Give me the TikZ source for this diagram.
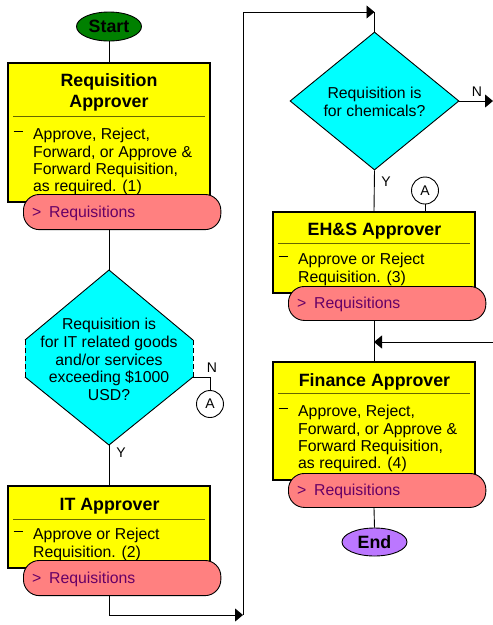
\documentclass[tikz,border=0pt]{standalone}
\usepackage{fontspec}
\setmainfont{Liberation Sans}
\usetikzlibrary{arrows.meta,shapes.geometric}

\definecolor{boxyellow}{RGB}{255,255,0}
\definecolor{pillred}{RGB}{255,128,128}
\definecolor{pilltext}{RGB}{102,0,102}
\definecolor{decisioncyan}{RGB}{0,255,255}
\definecolor{startgreen}{RGB}{0,128,0}
\definecolor{endpurple}{RGB}{187,119,255}
\definecolor{ruleolive}{RGB}{102,102,0}

\tikzset{
  rolebox/.style={draw=black, line width=2.4pt, fill=boxyellow, inner sep=0pt, anchor=north west},
  pill/.style={draw=black, line width=0.9pt, fill=pillred, rounded corners=16pt, inner sep=0pt, anchor=north west},
  flow/.style={draw=black, line width=0.9pt},
  arrowflow/.style={flow, -{Triangle[length=8pt,width=13pt]}},
  titletext/.style={font=\fontsize{17.8}{21}\selectfont\bfseries, align=center, inner sep=0pt, anchor=north},
  bodytext/.style={font=\fontsize{15.8}{17.3}\selectfont, align=left, inner sep=0pt, anchor=north west},
  decisiontext/.style={font=\fontsize{15.8}{17.7}\selectfont, align=center, inner sep=0pt, anchor=north},
  pilllabel/.style={font=\fontsize{15.8}{17.3}\selectfont, text=pilltext, inner sep=0pt, anchor=base west},
  terminal/.style={ellipse, draw=black, line width=0.9pt, inner sep=0pt, font=\fontsize{17.8}{21}\selectfont\bfseries},
  branchlabel/.style={font=\fontsize{14}{16}\selectfont, inner sep=0pt},
  offpage/.style={circle, draw=black, line width=0.9pt, fill=white, inner sep=0pt, minimum size=27pt, font=\fontsize{14}{16}\selectfont},
  rulesep/.style={draw=ruleolive, line width=1pt},
  bulletdash/.style={draw=black, line width=1pt},
}

\begin{document}
\begin{tikzpicture}[x=1pt, y=-1pt]
\useasboundingbox (0,0) rectangle (493,625);

% ---------- left column ----------
\node[terminal, fill=startgreen, minimum width=65pt, minimum height=29pt] (start) at (109,26.5) {Start};

% Requisition Approver
\node[rolebox, minimum width=201.6pt, minimum height=138.6pt] (ra) at (7,62) {};
\node[titletext] (rat) at (109,71.3) {\strut Requisition\\Approver};
\draw[rulesep] (13,116) -- (205,116);
\draw[bulletdash] (13.5,131) -- (22.5,131);
\node[bodytext] (rab) at (33,127.4) {\strut Approve, Reject,\\Forward, or Approve \&\\Forward Requisition,\\as required. (1)};
\node[pill, minimum width=197.4pt, minimum height=35.2pt] (rap) at (23,194) {};
\node[pilllabel] (rapl) at (32,217.7) {>\kern7.8pt Requisitions};

% IT decision
\coordinate (d1t)  at (109,270);
\coordinate (d1ur) at (193,340);
\coordinate (d1lr) at (193,377);
\coordinate (d1b)  at (109,445);
\coordinate (d1ll) at (25,377);
\coordinate (d1ul) at (25,340);
\fill[decisioncyan] (d1t) -- (d1ur) -- (d1lr) -- (d1b) -- (d1ll) -- (d1ul) -- cycle;
\draw[flow] (d1ul) -- (d1t) -- (d1ur);
\draw[flow] (d1lr) -- (d1b) -- (d1ll);
\draw[flow, dash pattern=on 5pt off 3pt] (d1ur) -- (d1lr);
\draw[flow, dash pattern=on 5pt off 3pt] (d1ll) -- (d1ul);
\node[decisiontext] (d1text) at (109,317.1) {\strut Requisition is\\for IT related goods\\and/or services\\exceeding \$1000\\USD?};

\node[offpage] (ca1) at (210,404) {A};
\node[branchlabel] (n1) at (212,368) {N};
\node[branchlabel] (y1) at (121,453) {Y};

% IT Approver
\node[rolebox, minimum width=201.6pt, minimum height=81.6pt] (it) at (7,485) {};
\node[titletext] (itt) at (109.5,495.3) {\strut IT Approver};
\draw[rulesep] (13,519) -- (205,519);
\draw[bulletdash] (13.5,531.5) -- (22.5,531.5);
\node[bodytext] (itb) at (33,527.4) {\strut Approve or Reject\\Requisition. (2)};
\node[pill, minimum width=197.4pt, minimum height=35.2pt] (itp) at (23,560) {};
\node[pilllabel] (itpl) at (32,583.9) {>\kern7.8pt Requisitions};

% ---------- right column ----------
\coordinate (bend1) at (243,615);
\coordinate (bend2) at (374.5,12);

\node[diamond, draw=black, line width=0.9pt, fill=decisioncyan, inner sep=0pt,
      minimum width=169pt, minimum height=138pt] (d2) at (374.5,101) {};
\node[decisiontext] (d2text) at (374.5,86.2) {\strut Requisition is\\for chemicals?};
\coordinate (d2out) at (493,101);
\node[branchlabel] (n2) at (477,92) {N};
\node[branchlabel] (y2) at (386,182) {Y};

\node[offpage] (ca2) at (425,190.5) {A};

% EH&S Approver
\node[rolebox, minimum width=201.6pt, minimum height=80.6pt] (eh) at (272,211) {};
\node[titletext] (eht) at (374.5,220.3) {\strut EH\&S Approver};
\draw[rulesep] (278,243) -- (470,243);
\draw[bulletdash] (278.5,256) -- (288,256);
\node[bodytext] (ehb) at (298,252.4) {\strut Approve or Reject\\Requisition. (3)};
\node[pill, minimum width=197.4pt, minimum height=34pt] (ehp) at (288,286) {};
\node[pilllabel] (ehpl) at (297,308.7) {>\kern7.8pt Requisitions};

\coordinate (rin) at (493,342);

% Finance Approver
\node[rolebox, minimum width=201.6pt, minimum height=117.6pt] (fin) at (272,361) {};
\node[titletext] (fint) at (374.5,371.3) {\strut Finance Approver};
\draw[rulesep] (278,393.3) -- (470,393.3);
\draw[bulletdash] (278.5,408) -- (288,408);
\node[bodytext] (finb) at (298,404.4) {\strut Approve, Reject,\\Forward, or Approve \&\\Forward Requisition,\\as required. (4)};
\node[pill, minimum width=197.4pt, minimum height=34pt] (finp) at (288,473) {};
\node[pilllabel] (finpl) at (297,495.7) {>\kern7.8pt Requisitions};

\node[terminal, fill=endpurple, minimum width=65pt, minimum height=28pt] (end) at (374.5,542) {End};

% ---------- connectors ----------
\draw[flow] (start.south) -- (ra.north);
\draw[flow] (d1t |- rap.south) -- (d1t);
\draw[flow] (d1b) -- (it.north);
\draw[flow] (d1lr) -| (ca1.north);
\draw[arrowflow] (itp.south -| it.north) |- (bend1);
\draw[arrowflow] (bend1) |- (bend2);
\draw[flow] (bend2) -- (d2.north);
\draw[arrowflow] (d2.east) -- (d2out);
\draw[flow] (d2.south) -- (eh.north);
\draw[flow] (ca2.south) -- (ca2.south |- eh.north);
\draw[flow] (ehp.south -| eh.north) -- (fin.north);
\draw[arrowflow] (rin) -- (rin -| fin.north);
\draw[flow] (finp.south -| fin.north) -- (end.north);
\end{tikzpicture}
\end{document}
